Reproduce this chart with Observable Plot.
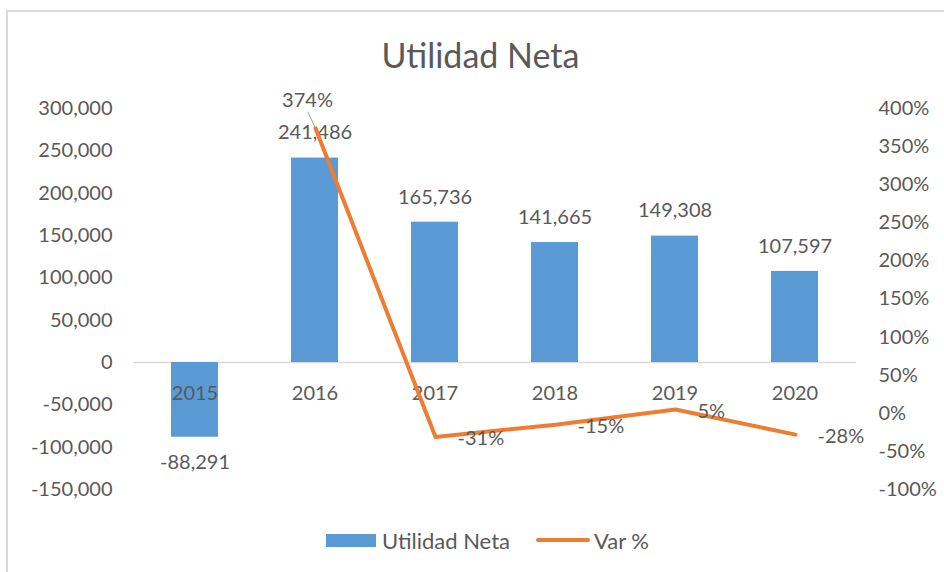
<!DOCTYPE html>
<html>
<head>
<meta charset="utf-8">
<script src="https://cdn.jsdelivr.net/npm/d3@7"></script>
<script src="https://cdn.jsdelivr.net/npm/@observablehq/plot@0.6"></script>
<style>
  html, body { margin: 0; padding: 0; background: #fff; overflow: hidden; }
  #chart { position: relative; width: 944px; height: 572px; font-family: Lato, "Open Sans", sans-serif; color: #595959; }
  #frame { position: absolute; left: 6px; top: 10px; width: 980px; height: 620px; border: 2px solid #d9d9d9; box-sizing: border-box; }
  #title { position: absolute; left: 0; top: 35px; width: 961px; text-align: center; font-size: 34px; line-height: 40px; }
  .layer { position: absolute; left: 0; top: 0; }
  .layer svg { background: transparent; }
  #legend { position: absolute; top: 527px; left: 326px; height: 26px; display: flex; align-items: center; font-size: 22px; white-space: nowrap; }
  .sw-bar { width: 50px; height: 13px; background: #5B9BD5; margin-right: 6px; }
  .sw-line { width: 54px; height: 4px; border-radius: 2px; background: #ED7D31; margin-left: 26px; margin-right: 4px; }
</style>
</head>
<body>
<div id="chart">
  <div id="frame"></div>
  <div id="title">Utilidad Neta</div>
  <div id="barsLayer" class="layer"></div>
  <div id="lineLayer" class="layer"></div>
  <div id="legend"><div class="sw-bar"></div><span>Utilidad Neta</span><div class="sw-line"></div><span>Var %</span></div>
</div>
<script>
// ---- Data ----
const years = ["2015", "2016", "2017", "2018", "2019", "2020"];
const utilidad = [-88291, 241486, 165736, 141665, 149308, 107597];
const varYears = ["2016", "2017", "2018", "2019", "2020"];
const varPct = [3.74, -0.31, -0.15, 0.05, -0.28];
const leftTicks = [-150000, -100000, -50000, 0, 50000, 100000, 150000, 200000, 250000, 300000];
const rightTicks = [-1, -0.5, 0, 0.5, 1, 1.5, 2, 2.5, 3, 3.5, 4];

// ---- Tables ----
const barData = years.map((year, i) => ({year, value: utilidad[i]}));
const lineData = varYears.map((year, i) => ({year, pct: varPct[i]}));

const fmtNum = d => d.toLocaleString("en-US");
const fmtPct = d => Math.round(d * 100) + "%";

const W = 944, H = 572;
const M = {top: 108, bottom: 83, left: 133, right: 88};
const TXT = "#595959";
const FONT = "Lato, 'Open Sans', sans-serif";

const barsPlot = Plot.plot({
  width: W, height: H,
  marginTop: M.top, marginBottom: M.bottom, marginLeft: M.left, marginRight: M.right,
  style: {fontFamily: FONT, background: "transparent", color: TXT},
  x: {type: "band", domain: years, paddingInner: 0.61, paddingOuter: 0.305, axis: null},
  y: {domain: [-150000, 300000], axis: null},
  marks: [
    Plot.axisY(leftTicks, {anchor: "left", tickSize: 0, tickPadding: 21, tickFormat: fmtNum, fontSize: 20, fill: TXT, label: null}),
    Plot.ruleY([0], {stroke: "#d9d9d9", strokeWidth: 1.5}),
    Plot.barY(barData, {x: "year", y: "value", fill: "#5B9BD5"}),
    Plot.text(barData, {x: "year", y: () => 0, text: "year", dy: 31, fontSize: 20, fill: TXT}),
    Plot.text(barData.filter(d => d.value >= 0), {x: "year", y: "value", text: d => fmtNum(d.value), dy: -25, fontSize: 20, fill: TXT}),
    Plot.text(barData.filter(d => d.value < 0), {x: "year", y: "value", text: d => fmtNum(d.value), dy: 25, fontSize: 20, fill: TXT})
  ]
});
document.getElementById("barsLayer").appendChild(barsPlot);

const linePlot = Plot.plot({
  width: W, height: H,
  marginTop: M.top, marginBottom: M.bottom, marginLeft: M.left, marginRight: M.right,
  style: {fontFamily: FONT, background: "transparent", color: TXT},
  x: {type: "point", domain: years, padding: 0.5, axis: null},
  y: {domain: [-1, 4], axis: null},
  marks: [
    Plot.axisY(rightTicks, {anchor: "right", tickSize: 0, tickPadding: 22, tickFormat: fmtPct, fontSize: 20, fill: TXT, label: null}),
    Plot.vector(lineData.filter(d => d.pct > 1), {x: "year", y: "pct", length: 18, rotate: -25, r: 0, anchor: "start", stroke: "#a6a6a6", strokeWidth: 1}),
    Plot.lineY(lineData, {x: "year", y: "pct", stroke: "#ED7D31", strokeWidth: 4, strokeLinejoin: "round", strokeLinecap: "round"}),
    Plot.text(lineData.filter(d => d.pct > 1), {x: "year", y: "pct", text: d => fmtPct(d.pct), dx: -8, dy: -28, fontSize: 20, fill: TXT}),
    Plot.text(lineData.filter(d => d.pct <= 1), {x: "year", y: "pct", text: d => fmtPct(d.pct), textAnchor: "start", dx: 22, dy: 2, fontSize: 20, fill: TXT})
  ]
});
document.getElementById("lineLayer").appendChild(linePlot);
</script>
</body>
</html>
